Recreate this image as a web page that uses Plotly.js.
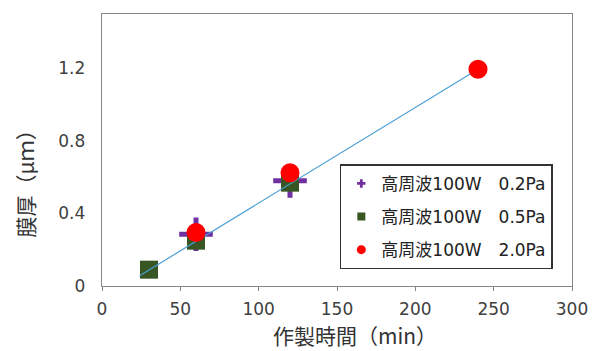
<!DOCTYPE html>
<html><head><meta charset="utf-8">
<script src="https://cdn.plot.ly/plotly-3.0.1.min.js"></script>
<style>html,body{margin:0;padding:0;background:#fff}#c{width:594px;height:351px}</style>
</head><body><div id="c"></div>
<script>
const seriesNames = ["高周波100W\u30000.2Pa", "高周波100W\u30000.5Pa", "高周波100W\u30002.0Pa"];
const x02 = [60, 120];
const y02 = [0.285, 0.58];
const x05 = [30, 60, 120];
const y05 = [0.09, 0.25, 0.57];
const x20 = [60, 120, 240];
const y20 = [0.295, 0.625, 1.195];
const trendX = [24, 240];
const trendY = [0.057, 1.195];
const xTicks = [0, 50, 100, 150, 200, 250, 300];
const yTicks = [0, 0.4, 0.8, 1.2];
const yTickText = ["0", "0.4", "0.8", "1.2"];
const xTitle = "作製時間（min）";
const yTitle = "膜厚（μｍ）";

const FONT = "'DejaVu Sans', 'Noto Sans CJK JP', sans-serif";
const CJK = "'Noto Sans CJK JP', sans-serif";
const cPurple = "#7030A0", cGreen = "#375623", cRed = "#FF0000";

const traces = [
  {x: x02, y: y02, mode: "markers", showlegend: false, hoverinfo: "skip",
   marker: {symbol: "cross-thin", size: 24, color: cPurple, line: {color: cPurple, width: 5}}},
  {x: x05, y: y05, mode: "markers", showlegend: false,
   marker: {symbol: "square", size: 18, color: cGreen}},
  {x: trendX, y: trendY, mode: "lines", showlegend: false,
   line: {color: "#4A9FD4", width: 1.2}},
  {x: x20, y: y20, mode: "markers", showlegend: false,
   marker: {symbol: "circle", size: 19, color: cRed}},
  {x: [null], y: [null], mode: "markers", name: seriesNames[0], legendgroup: "a",
   marker: {symbol: "cross", size: 7, color: cPurple}},
  {x: [null], y: [null], mode: "markers", name: seriesNames[1], legendgroup: "b",
   marker: {symbol: "square", size: 8, color: cGreen}},
  {x: [null], y: [null], mode: "markers", name: seriesNames[2], legendgroup: "c",
   marker: {symbol: "circle", size: 9, color: cRed}}
];

const layout = {
  width: 594, height: 351,
  margin: {l: 102, r: 22, t: 14, b: 65},
  paper_bgcolor: "#fff", plot_bgcolor: "#fff",
  font: {family: FONT, color: "#404040", size: 17},
  showlegend: true,
  legend: {x: 0.506, y: 0.447, xanchor: "left", yanchor: "top",
    bordercolor: "#333", borderwidth: 1.5, bgcolor: "#fff",
    font: {family: FONT, size: 17, color: "#222"},
    tracegroupgap: 8, traceorder: "grouped", itemwidth: 30},
  xaxis: {range: [0, 300], tickvals: xTicks, ticktext: xTicks.map(String),
    showgrid: false, zeroline: false, showline: true, linecolor: "#868686", linewidth: 1.3,
    mirror: true, ticks: "outside", ticklen: 4, tickcolor: "#868686",
    ticklabelstandoff: 3,
    tickfont: {family: FONT, size: 17, color: "#404040"}},
  yaxis: {range: [0, 1.5], tickvals: yTicks, ticktext: yTickText,
    showgrid: false, zeroline: false, showline: true, linecolor: "#868686", linewidth: 1.3,
    mirror: true, ticks: "", ticklabelstandoff: 12,
    tickfont: {family: FONT, size: 17, color: "#404040"}},
  annotations: [
    {text: xTitle, xref: "paper", yref: "paper", x: (355 - 102) / 470, y: -(336 - 287) / 273,
     xanchor: "center", yanchor: "middle", showarrow: false,
     font: {family: CJK, size: 21, color: "#333"}},
    {text: yTitle, xref: "paper", yref: "paper", x: -(102 - 25) / 470, y: (287 - 179) / 273,
     xanchor: "center", yanchor: "middle", showarrow: false, textangle: -90,
     font: {family: CJK, size: 21, color: "#333"}}
  ]
};

Plotly.newPlot("c", traces, layout, {displayModeBar: false, staticPlot: true});
</script></body></html>
